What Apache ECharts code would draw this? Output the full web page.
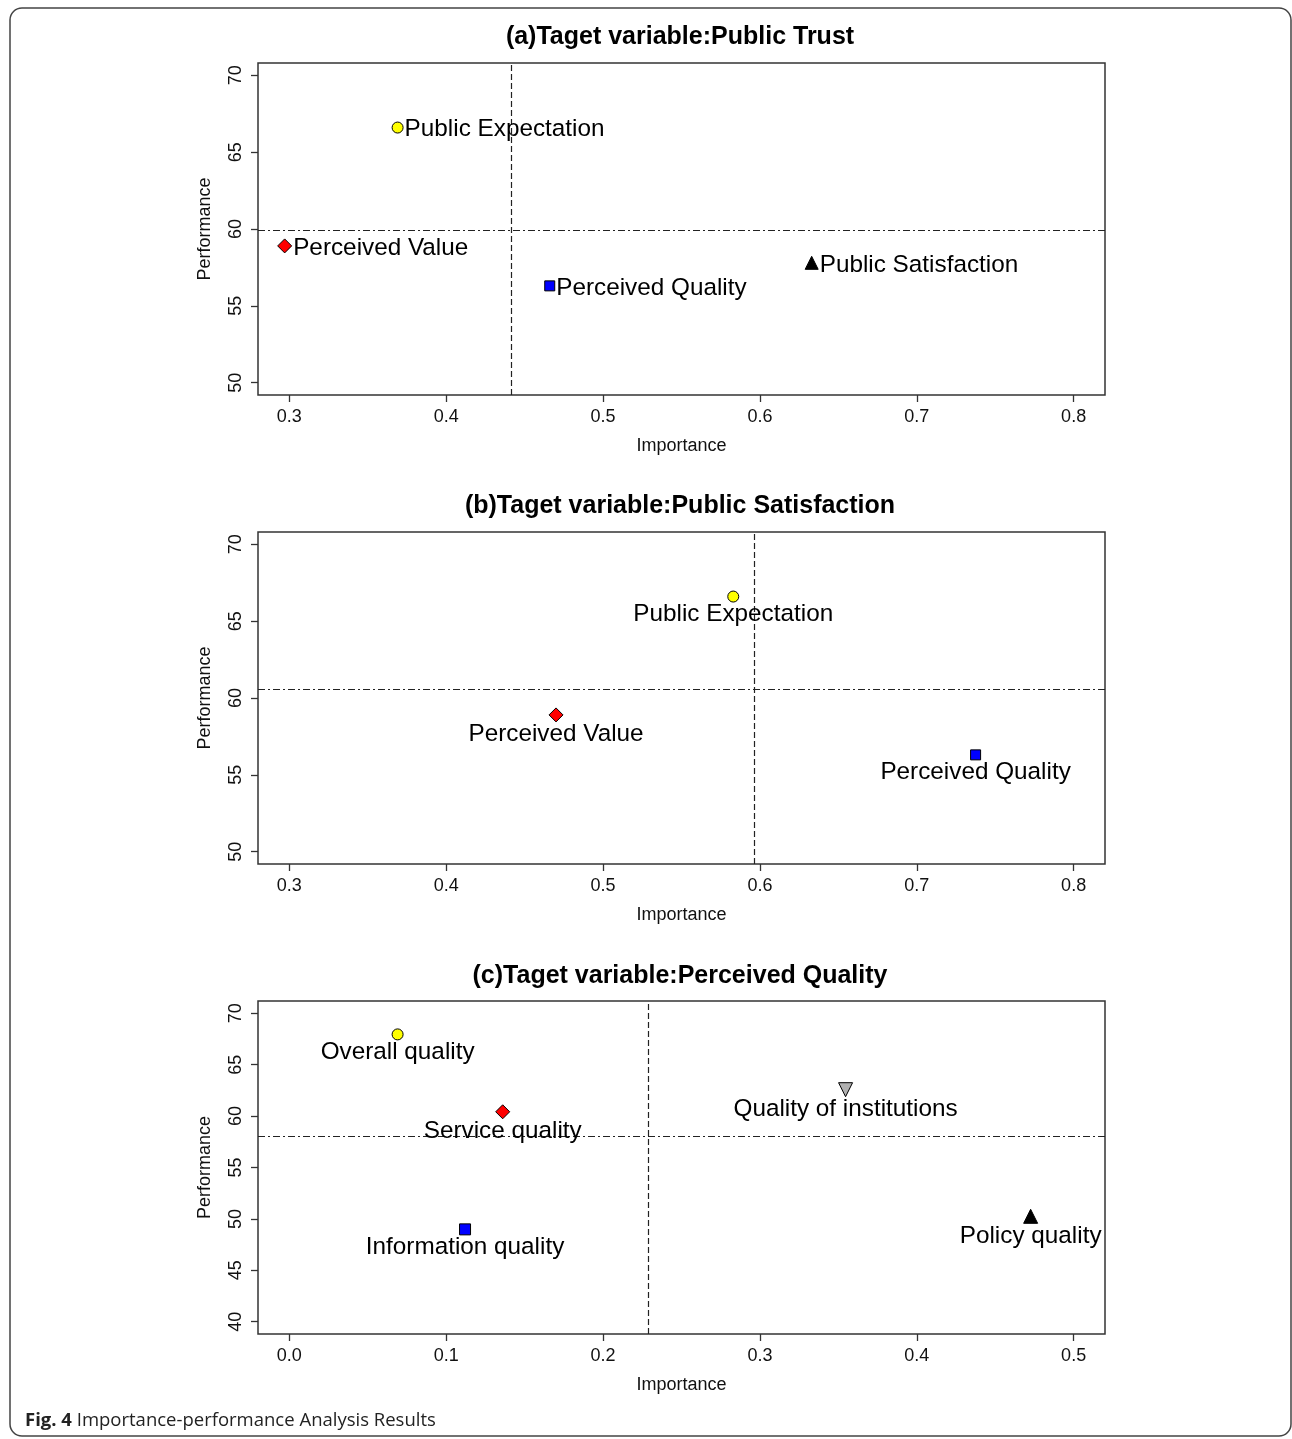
<!DOCTYPE html>
<html>
<head>
<meta charset="utf-8">
<script src="https://cdn.jsdelivr.net/npm/echarts@6/dist/echarts.min.js"></script>
<style>html,body{margin:0;padding:0;background:#fff}#c{width:1292px;height:1439px}</style>
</head>
<body>
<div id="c"></div>
<script>
// ---- Data ----
const titles = ['(a)Taget variable:Public Trust', '(b)Taget variable:Public Satisfaction', '(c)Taget variable:Perceived Quality'];

const namesA = ['Public Expectation', 'Perceived Value', 'Perceived Quality', 'Public Satisfaction'];
const importanceA = [0.369, 0.297, 0.466, 0.633];
const performanceA = [66.6, 58.9, 56.3, 57.8];
const meanImportanceA = [0.4416];
const meanPerformanceA = [59.9];

const namesB = ['Public Expectation', 'Perceived Value', 'Perceived Quality'];
const importanceB = [0.583, 0.470, 0.7375];
const performanceB = [66.6, 58.9, 56.3];
const meanImportanceB = [0.5966];
const meanPerformanceB = [60.55];

const namesC = ['Overall quality', 'Service quality', 'Information quality', 'Quality of institutions', 'Policy quality'];
const importanceC = [0.069, 0.136, 0.112, 0.3546, 0.4726];
const performanceC = [67.95, 60.42, 48.98, 62.57, 50.25];
const meanImportanceC = [0.229];
const meanPerformanceC = [58.07];

const xTicksAB = [0.3, 0.4, 0.5, 0.6, 0.7, 0.8];
const yTicksAB = [50, 55, 60, 65, 70];
const xTicksC = [0.0, 0.1, 0.2, 0.3, 0.4, 0.5];
const yTicksC = [40, 45, 50, 55, 60, 65, 70];

// ---- Styles (by construct) ----
const markStyle = {
  'Public Expectation': {symbol: 'circle', symbolSize: 11, color: '#ffff00'},
  'Overall quality': {symbol: 'circle', symbolSize: 11, color: '#ffff00'},
  'Perceived Value': {symbol: 'diamond', symbolSize: 14, color: '#ff0000'},
  'Service quality': {symbol: 'diamond', symbolSize: 14, color: '#ff0000'},
  'Perceived Quality': {symbol: 'rect', symbolSize: 10, color: '#0000ff'},
  'Information quality': {symbol: 'rect', symbolSize: 11, color: '#0000ff'},
  'Public Satisfaction': {symbol: 'triangle', symbolSize: 13, color: '#000000'},
  'Policy quality': {symbol: 'triangle', symbolSize: 14, color: '#000000'},
  'Quality of institutions': {symbol: 'triangle', symbolSize: 14, color: '#b0b0b0', rotate: 180}
};

const FONT = '"Liberation Sans", Arial, Helvetica, sans-serif';
const grids = [
  {left: 258, top: 63, width: 847, height: 332},
  {left: 258, top: 532, width: 847, height: 332},
  {left: 258, top: 1001, width: 847, height: 333}
];

function mkData(names, xs, ys) {
  return names.map((n, i) => {
    const s = markStyle[n];
    return {
      name: n, value: [xs[i], ys[i]],
      symbol: s.symbol, symbolSize: s.symbolSize, symbolRotate: s.rotate || 0,
      itemStyle: {color: s.color, borderColor: '#000', borderWidth: 1, opacity: 1}
    };
  });
}

function xAxisDef(i, min, max, ticks, dec) {
  return {
    type: 'value', gridIndex: i, min: min, max: max,
    name: 'Importance', nameLocation: 'middle', nameGap: 42,
    nameTextStyle: {fontFamily: FONT, fontSize: 18, color: '#111'},
    axisLine: {show: false, onZero: false},
    axisTick: {show: true, inside: false, length: 7, customValues: ticks, lineStyle: {color: '#333', width: 1.3}},
    axisLabel: {customValues: ticks, formatter: v => Number(v).toFixed(dec), fontFamily: FONT, fontSize: 18, color: '#111', margin: 13},
    splitLine: {show: false}
  };
}
function yAxisDef(i, min, max, ticks) {
  return {
    type: 'value', gridIndex: i, min: min, max: max,
    name: 'Performance', nameLocation: 'middle', nameGap: 44,
    nameTextStyle: {fontFamily: FONT, fontSize: 18, color: '#111'},
    axisLine: {show: false, onZero: false},
    axisTick: {show: true, inside: false, length: 7, customValues: ticks, lineStyle: {color: '#333', width: 1.3}},
    axisLabel: {customValues: ticks, rotate: 90, formatter: v => String(Math.round(v)), fontFamily: FONT, fontSize: 18, color: '#111', margin: 13},
    splitLine: {show: false}
  };
}

function mkSeries(i, names, xs, ys, vx, hy, pos) {
  return {
    type: 'scatter', xAxisIndex: i, yAxisIndex: i, z: 5,
    data: mkData(names, xs, ys),
    label: {show: true, position: pos, distance: pos === 'right' ? 1 : 0, offset: pos === 'right' ? [0, 2] : [0, 0],
      formatter: p => p.name, fontFamily: FONT, fontSize: 24.3, color: '#000'},
    emphasis: {disabled: true},
    markLine: {
      silent: true, symbol: 'none', label: {show: false}, animation: false, precision: 6,
      data: [
        ...vx.map(v => ({xAxis: v, lineStyle: {color: '#222', width: 1.2, type: [6, 3]}})),
        ...hy.map(v => ({yAxis: v, lineStyle: {color: '#222', width: 1.2, type: [7, 3, 2, 3]}}))
      ]
    },
    animation: false
  };
}

const chart = echarts.init(document.getElementById('c'), null, {renderer: 'canvas'});
const titleStyle = {fontFamily: FONT, fontSize: 25, fontWeight: 'bold', color: '#000'};
chart.setOption({
  backgroundColor: '#fff',
  animation: false,
  title: [
    {text: titles[0], left: 675, top: 20, textAlign: 'center', textStyle: titleStyle},
    {text: titles[1], left: 675, top: 489, textAlign: 'center', textStyle: titleStyle},
    {text: titles[2], left: 675, top: 959, textAlign: 'center', textStyle: titleStyle}
  ],
  grid: grids.map(g => Object.assign({show: true, borderColor: '#333', borderWidth: 1.5, backgroundColor: 'transparent'}, g)),
  xAxis: [
    xAxisDef(0, 0.28, 0.82, xTicksAB, 1),
    xAxisDef(1, 0.28, 0.82, xTicksAB, 1),
    xAxisDef(2, -0.02, 0.52, xTicksC, 1)
  ],
  yAxis: [
    yAxisDef(0, 49.2, 70.8, yTicksAB),
    yAxisDef(1, 49.2, 70.8, yTicksAB),
    yAxisDef(2, 38.8, 71.2, yTicksC)
  ],
  series: [
    mkSeries(0, namesA, importanceA, performanceA, meanImportanceA, meanPerformanceA, 'right'),
    mkSeries(1, namesB, importanceB, performanceB, meanImportanceB, meanPerformanceB, 'bottom'),
    mkSeries(2, namesC, importanceC, performanceC, meanImportanceC, meanPerformanceC, 'bottom')
  ],
  graphic: [
    {type: 'rect', shape: {x: 10, y: 8, width: 1281, height: 1428, r: 12}, style: {fill: 'none', stroke: '#444', lineWidth: 1.5}, silent: true},
    {type: 'text', left: 25, top: 1411, style: {
      text: '{b|Fig. 4} Importance-performance Analysis Results',
      rich: {b: {fontFamily: '"Open Sans", sans-serif', fontWeight: 'bold', fontSize: 18.5, fill: '#222'}},
      fontFamily: '"Open Sans", sans-serif', fontSize: 18.5, fill: '#222'
    }}
  ]
});
</script>
</body>
</html>
